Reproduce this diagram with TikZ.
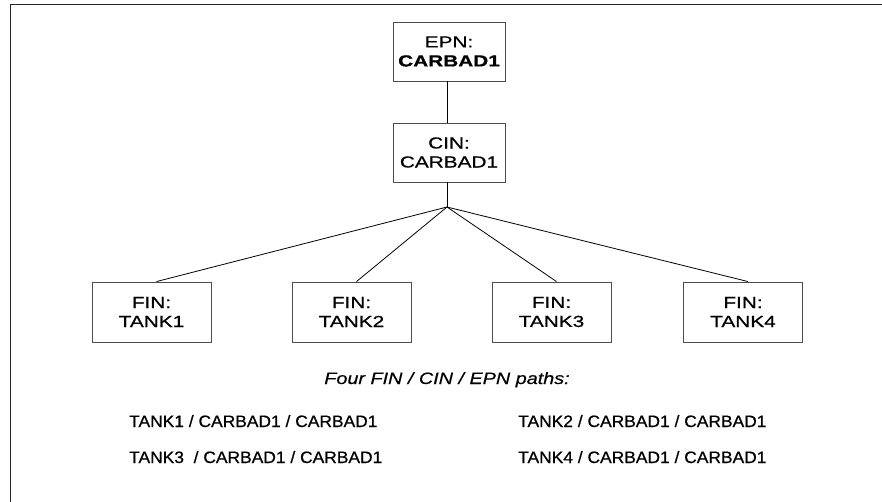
\documentclass[tikz,border=0pt]{standalone}
\usepackage{fontspec}
\setmainfont{Liberation Sans}
% widened, slightly heavier faces for the box labels and the listing
\newfontfamily\boxfont[FakeStretch=1.3,FakeBold=0.7]{Liberation Sans}
\newfontfamily\capfont[FakeStretch=1.2,FakeBold=0.5]{Liberation Sans}
\newfontfamily\listfont[FakeStretch=1.055,FakeBold=0.7]{Liberation Sans}
\begin{document}
\begin{tikzpicture}[x=1pt,y=-1pt,
  box/.style={draw=black!70, line width=0.9pt, minimum width=112pt, minimum height=59pt,
    inner sep=0pt, align=center, font=\boxfont\fontsize{16}{19}\selectfont},
  finbox/.style={box, minimum width=119pt, minimum height=60pt},
  link/.style={draw=black, line width=0.8pt},
  pathtext/.style={anchor=base west, inner sep=0pt, font=\listfont\fontsize{16.5}{19}\selectfont}]
\useasboundingbox (0,0) rectangle (882,502);
% outer frame (left and top edges)
\draw[black!85, line width=1.6pt] (10.5,502) -- (10.5,4.5) -- (882,4.5);
% hierarchy boxes
\node[box] (epn) at (449,51.5) {EPN:\\\textbf{CARBAD1}};
\node[box] (cin) at (449,152.5) {CIN:\\CARBAD1};
\node[finbox] (t1) at (151.5,312) {FIN:\\TANK1};
\node[finbox] (t2) at (351.5,312) {FIN:\\TANK2};
\node[finbox] (t3) at (551.5,312) {FIN:\\TANK3};
\node[finbox] (t4) at (743,312) {FIN:\\TANK4};
\coordinate (fork) at (447,207);
% connectors
\draw[link] (epn.south -| fork) -- (cin.north -| fork);
\draw[link] (cin.south -| fork) -- (fork);
\foreach \t in {t1,t2,t3,t4}
  \draw[link] (fork) -- ([xshift=5pt]\t.north);
% path listing
\node[inner sep=0pt, anchor=base, font=\capfont\fontsize{16.5}{19}\selectfont\itshape] (cap) at (447,384) {Four FIN / CIN / EPN paths:};
\node[pathtext] (p1) at (129,427) {TANK1 / CARBAD1 / CARBAD1};
\node[pathtext] (p2) at (518,427) {TANK2 / CARBAD1 / CARBAD1};
\node[pathtext] (p3) at (129,463) {TANK3~ / CARBAD1 / CARBAD1};
\node[pathtext] (p4) at (518,463) {TANK4 / CARBAD1 / CARBAD1};
\end{tikzpicture}
\end{document}
